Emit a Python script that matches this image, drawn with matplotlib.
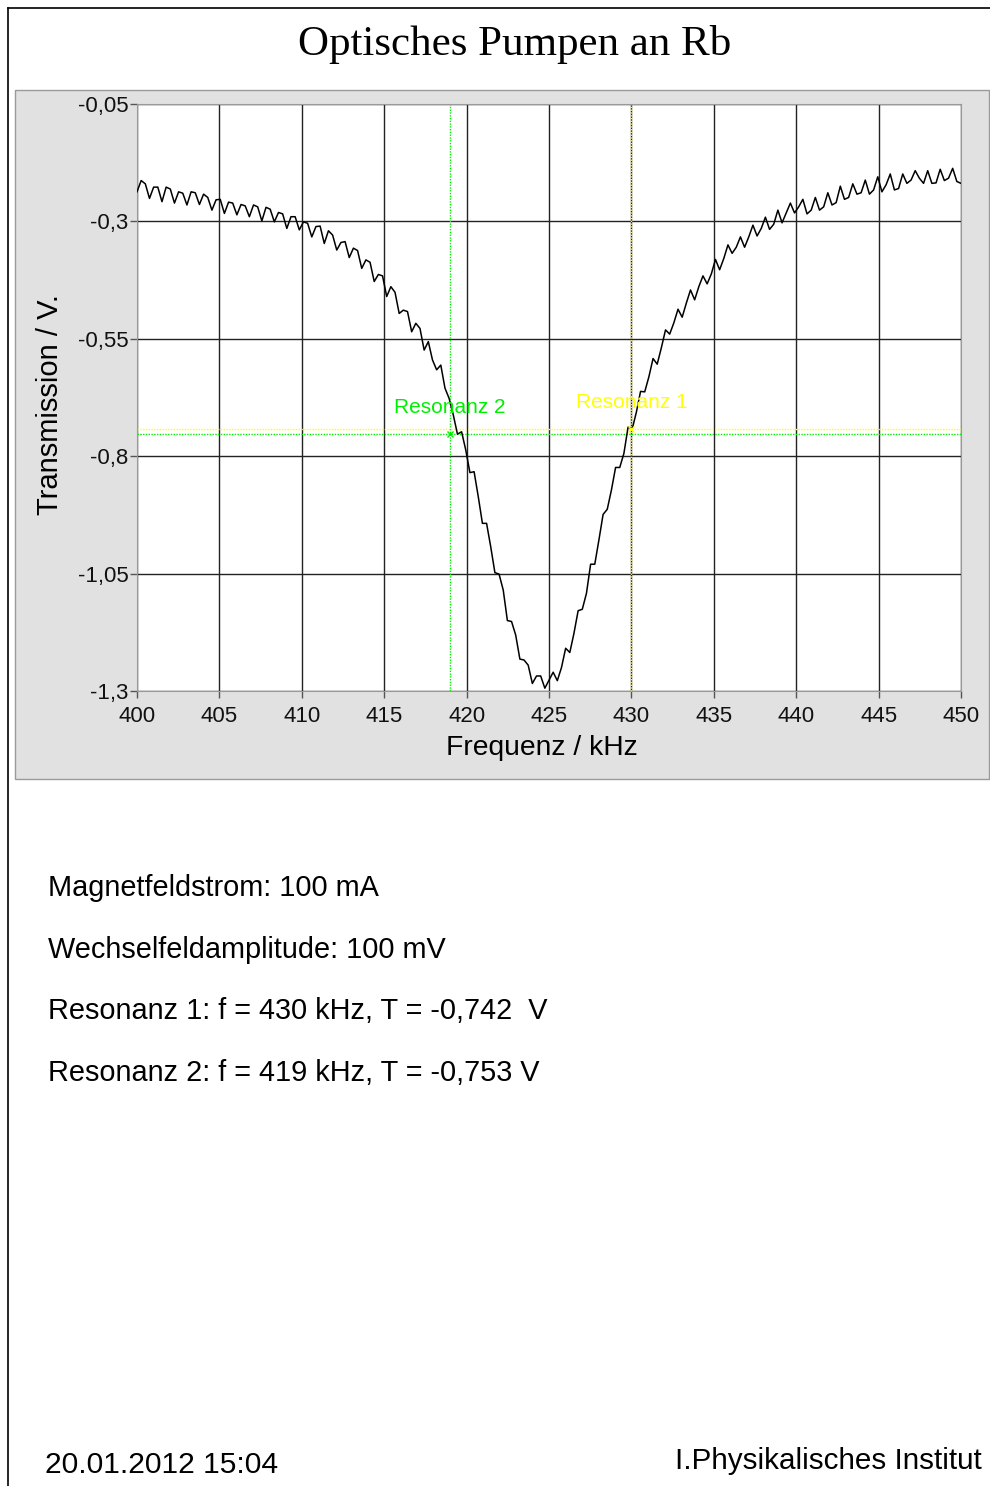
import numpy as np
import matplotlib
matplotlib.use("Agg")
import matplotlib.pyplot as plt
from matplotlib.patches import Rectangle
from matplotlib.lines import Line2D

plt.rcParams['font.family'] = ['Liberation Sans', 'DejaVu Sans']

# measured transmission (V), equally spaced from 400 to 450 kHz
transmission = [
    -0.237, -0.213, -0.220, -0.251, -0.227, -0.227, -0.258, -0.227, -0.231, -0.261,
    -0.237, -0.240, -0.265, -0.237, -0.239, -0.264, -0.242, -0.249, -0.276, -0.254,
    -0.253, -0.283, -0.259, -0.261, -0.286, -0.264, -0.267, -0.290, -0.265, -0.269,
    -0.299, -0.270, -0.274, -0.301, -0.281, -0.284, -0.315, -0.290, -0.290, -0.318,
    -0.301, -0.304, -0.333, -0.311, -0.310, -0.347, -0.320, -0.329, -0.361, -0.345,
    -0.343, -0.377, -0.357, -0.362, -0.400, -0.382, -0.387, -0.428, -0.413, -0.416,
    -0.460, -0.439, -0.451, -0.496, -0.489, -0.492, -0.535, -0.517, -0.528, -0.574,
    -0.556, -0.595, -0.616, -0.606, -0.655, -0.677, -0.712, -0.753, -0.748, -0.787,
    -0.835, -0.833, -0.886, -0.943, -0.943, -0.993, -1.048, -1.051, -1.085, -1.150,
    -1.152, -1.181, -1.232, -1.234, -1.245, -1.284, -1.268, -1.268, -1.294, -1.277,
    -1.260, -1.278, -1.250, -1.209, -1.218, -1.177, -1.129, -1.126, -1.092, -1.030,
    -1.030, -0.978, -0.924, -0.913, -0.872, -0.824, -0.824, -0.794, -0.738, -0.742,
    -0.706, -0.662, -0.663, -0.631, -0.592, -0.604, -0.569, -0.531, -0.540, -0.516,
    -0.487, -0.504, -0.474, -0.446, -0.467, -0.439, -0.416, -0.433, -0.412, -0.381,
    -0.403, -0.379, -0.350, -0.368, -0.355, -0.333, -0.355, -0.333, -0.308, -0.331,
    -0.315, -0.291, -0.317, -0.306, -0.276, -0.303, -0.282, -0.261, -0.282, -0.269,
    -0.253, -0.284, -0.276, -0.249, -0.276, -0.269, -0.239, -0.265, -0.260, -0.225,
    -0.253, -0.249, -0.220, -0.242, -0.239, -0.212, -0.242, -0.233, -0.205, -0.237,
    -0.222, -0.199, -0.233, -0.230, -0.199, -0.219, -0.212, -0.192, -0.208, -0.219,
    -0.192, -0.219, -0.218, -0.189, -0.213, -0.208, -0.187, -0.215, -0.219,
]
f_start, f_stop = 400.0, 450.0
frequency = np.linspace(f_start, f_stop, len(transmission))

x_ticks = [400, 405, 410, 415, 420, 425, 430, 435, 440, 445, 450]
y_ticks = [-0.05, -0.3, -0.55, -0.8, -1.05, -1.3]
y_ticklabels = ['-0,05', '-0,3', '-0,55', '-0,8', '-1,05', '-1,3']

# resonances (frequency in kHz, transmission in V)
res_names = ['Resonanz 1', 'Resonanz 2']
res_freq = [430, 419]
res_trans = [-0.742, -0.753]
res_colors = ['#ffff00', '#00ee00']

info_lines = [
    'Magnetfeldstrom: 100 mA',
    'Wechselfeldamplitude: 100 mV',
    'Resonanz 1: f = 430 kHz, T = -0,742  V',
    'Resonanz 2: f = 419 kHz, T = -0,753 V',
]

W, H = 990, 1486
fig = plt.figure(figsize=(W / 100, H / 100), dpi=100)


def fx(px):
    return px / W


def fy(py):
    return 1 - py / H


# page frame (left and top)
fig.add_artist(Line2D([fx(8), fx(8)], [0, fy(8)], color='black', lw=1.2, zorder=-5))
fig.add_artist(Line2D([fx(8), 1], [fy(8), fy(8)], color='black', lw=1.2, zorder=-5))

# grey chart panel behind the axes
fig.add_artist(Rectangle((fx(15), fy(779)), fx(989) - fx(15), fy(90) - fy(779),
                         facecolor='#e1e1e1', edgecolor='#9a9a9a', lw=1, zorder=-5))

fig.text(fx(515), fy(44), 'Optisches Pumpen an Rb', family='Liberation Serif',
         fontsize=31, ha='center', va='center')

ax = fig.add_axes([fx(137), fy(691), fx(961) - fx(137), fy(104) - fy(691)])
ax.set_facecolor('white')
ax.set_xlim(f_start, f_stop)
ax.set_ylim(y_ticks[-1], y_ticks[0])
ax.set_xticks(x_ticks)
ax.set_xticklabels([str(t) for t in x_ticks])
ax.set_yticks(y_ticks)
ax.set_yticklabels(y_ticklabels)
ax.tick_params(direction='out', length=5, width=1, color='#555555',
               labelsize=16, labelcolor='#111111')
ax.tick_params(axis='x', pad=6)
ax.tick_params(axis='y', pad=1)
ax.grid(True, color='#222222', lw=1)
ax.set_axisbelow(True)
for sp in ax.spines.values():
    sp.set_color('#9a9a9a')
    sp.set_linewidth(0.8)

for name, f, t, c in zip(res_names, res_freq, res_trans, res_colors):
    ax.axvline(f, color=c, lw=1, ls=(0, (1, 1)), zorder=2)
    ax.axhline(t, color=c, lw=1, ls=(0, (1, 1)), zorder=2)
    ax.plot(f, t, marker='x', color=c, ms=5, mew=1, zorder=4)
    ax.text(f, t + 0.056, name, color=c, fontsize=15, ha='center', va='center',
            zorder=5)

ax.plot(frequency, transmission, color='black', lw=1.1, zorder=3)

fig.text(fx(542), fy(748), 'Frequenz / kHz', fontsize=20.3, ha='center', va='center')
fig.text(fx(50), fy(405), 'Transmission / V.', fontsize=21, rotation=90,
         ha='center', va='center')

for k, line in enumerate(info_lines):
    fig.text(fx(48), fy(888 + k * 61.7), line, fontsize=20.8, ha='left', va='center')

fig.text(fx(45), fy(1465), '20.01.2012 15:04', fontsize=21.6, ha='left', va='center')
fig.text(fx(982), fy(1461), 'I.Physikalisches Institut', fontsize=21.3,
         ha='right', va='center')

fig.savefig('out.png', dpi=100)
